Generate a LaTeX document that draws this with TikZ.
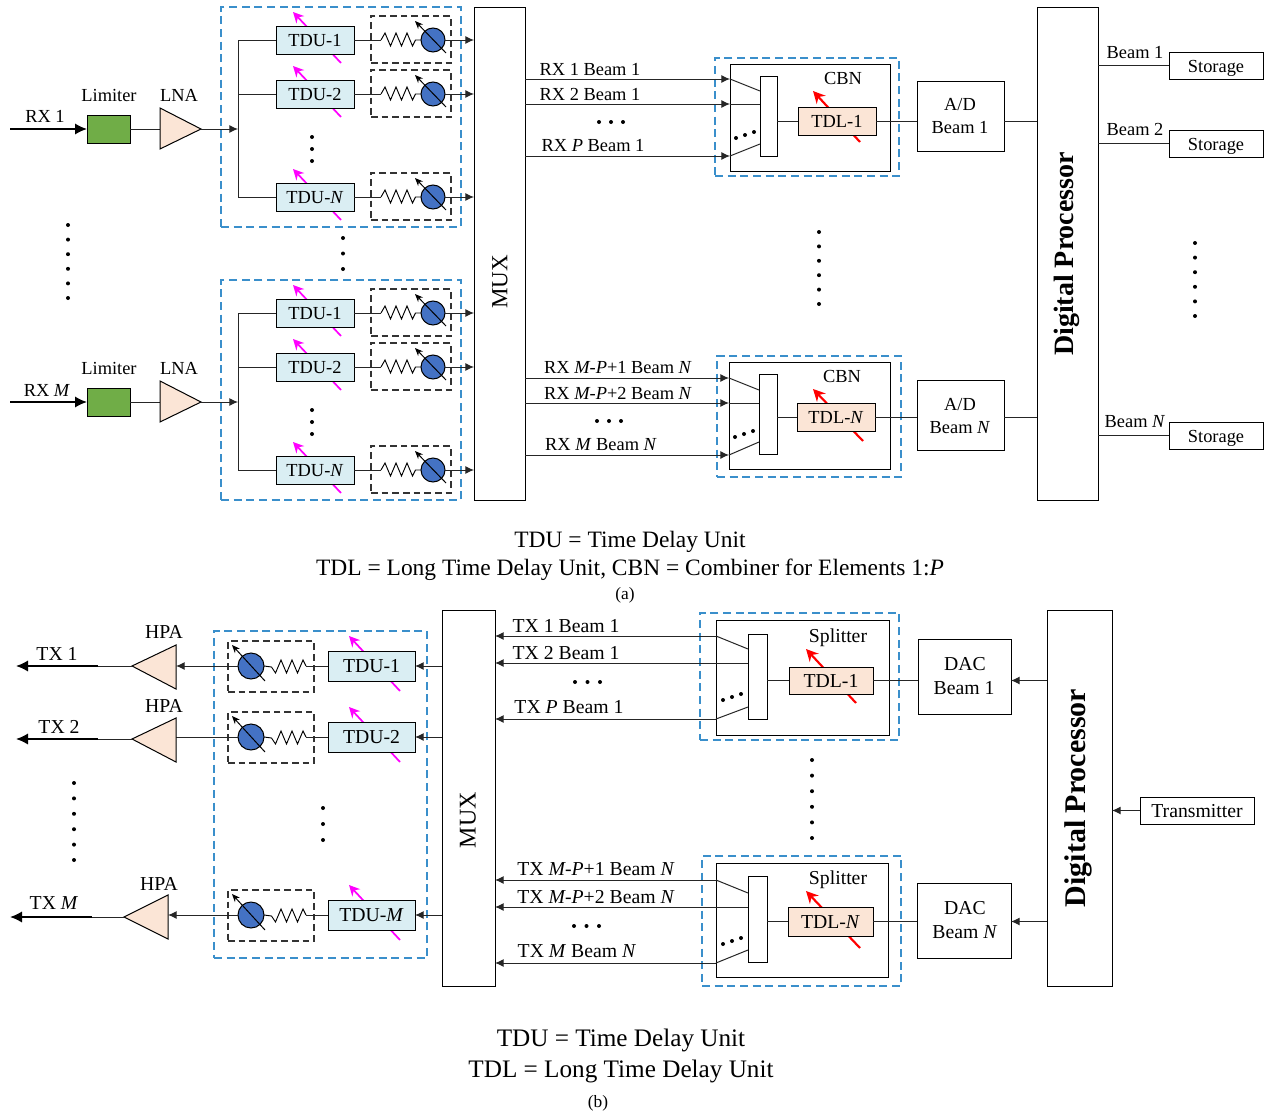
\documentclass[tikz,border=0pt]{standalone}
\usepackage{fontspec}
\setmainfont{Liberation Serif}
\usetikzlibrary{arrows.meta}
\definecolor{dashblue}{HTML}{3A8FCB}
\definecolor{tdufill}{HTML}{DAEEF3}
\definecolor{peach}{HTML}{FBE5D6}
\definecolor{limgreen}{HTML}{70AD47}
\definecolor{phase}{HTML}{4472C4}
\definecolor{mag}{HTML}{FF00FF}
\tikzset{
  wire/.style={draw=black!85,line width=0.75pt},
  arw/.style={wire,-{Latex[length=6.5pt,width=6pt]}},
  thickarw/.style={draw=black,line width=1.3pt,-{Latex[length=9pt,width=8.5pt]}},
  knob/.style={draw=black,line width=0.75pt,-{Stealth[length=6pt,width=5pt]}},
  magarrow/.style={draw=mag,line width=1.3pt,-{Stealth[length=8pt,width=8pt]}},
  redarrow/.style={draw=red,line width=1.6pt,-{Stealth[length=9pt,width=9pt]}},
  boxn/.style={draw=black,line width=0.7pt,fill=white,inner sep=0pt,outer sep=0pt,text height=10pt,text depth=0pt},
  tdubox/.style={boxn,fill=tdufill},
  tdlbox/.style={boxn,fill=peach},
  limbox/.style={boxn,fill=limgreen},
  blueframe/.style={boxn,fill=none,draw=dashblue,line width=1pt,dash pattern=on 6pt off 3.5pt},
  blackframe/.style={boxn,fill=none,draw=black!80,line width=0.8pt,dash pattern=on 5pt off 3pt},
  phasec/.style={circle,draw=black,line width=0.75pt,fill=phase,inner sep=0pt,outer sep=0pt},
  amp/.style={draw=black,line width=0.75pt,fill=peach,line join=miter},
  lab/.style={inner sep=0pt,outer sep=0pt,text height=10pt,text depth=0pt},
  vlab/.style={rotate=90,inner sep=0pt,outer sep=0pt},
}
\newcommand{\fa}{\fontsize{13.8pt}{16pt}\selectfont}
\newcommand{\fb}{\fontsize{14.8pt}{17pt}\selectfont}
\newcount\lc
% \bx{name}{style}{x1}{y1}{x2}{y2}{text}
\newcommand{\bx}[7]{\node[#2,minimum width={(#5-#3)*0.75pt},minimum height={(#6-#4)*0.75pt}] (#1) at ({(#3+#5)/2},{(#4+#6)/2}) {#7};}
% \lbl[opts]{x}{y}{text}
\newcommand{\lbl}[4][lab]{\global\advance\lc by 1 \node[#1] (txt\the\lc) at (#2,#3) {#4};}
% dots: x y dx dy n
\newcommand{\dotrow}[5]{\foreach \i in {1,...,#5}{\fill ({#1+(\i-1)*#3},{#2+(\i-1)*#4}) circle (2);}}
% RX delay row: id, y, label
\newcommand{\rxrow}[3]{\begin{scope}[shift={(0,#2)}]
  \draw[magarrow] (341,23) -- (293,-28);
  \coordinate (#1-bus) at (238,0);
  \coordinate (#1-r) at (381,0);
  \coordinate (#1-o) at (474,0);
  \bx{#1-t}{tdubox}{276}{-14}{354}{14}{\fa #3}
  \bx{#1-d}{blackframe}{371}{-24}{451}{23}{}
  \node[phasec,minimum size={24*0.75pt}] (#1-c) at (433,0) {};
  \draw[wire] (#1-bus) -- (#1-t.west);
  \draw[wire] (#1-t.east) -- (#1-r);
  \draw[line width=0.7pt] (#1-r) -- ++(4,-7) -- ++(5.5,13) -- ++(5.5,-13) -- ++(5.5,13) -- ++(5.5,-13) -- ++(5.5,13) -- ++(3,-6) -- (#1-c.west);
  \draw[arw] (#1-c.east) -- (#1-o);
  \draw[knob] (446,13) -- (415,-19);
\end{scope}}
% TX delay row: id, y, label
\newcommand{\txrow}[3]{\begin{scope}[shift={(0,#2)}]
  \draw[magarrow] (400,25) -- (349,-30);
  \coordinate (#1-r) at (306,0);
  \bx{#1-t}{tdubox}{328}{-15}{415}{15}{\fb #3}
  \bx{#1-d}{blackframe}{228}{-25}{314}{26}{}
  \node[phasec,minimum size={26*0.75pt}] (#1-c) at (251,0) {};
  \draw[wire] (#1-t.west) -- (#1-r);
  \draw[line width=0.7pt] (#1-r) -- ++(-3,-6) -- ++(-5.5,13) -- ++(-5.5,-13) -- ++(-5.5,13) -- ++(-5.5,-13) -- ++(-5.5,13) -- ++(-4,-6) -- (#1-c.east);
  \draw[knob] (265,15) -- (232,-21);
\end{scope}}
\begin{document}
\begin{tikzpicture}[x=0.75pt,y=-0.75pt]
\useasboundingbox (0,0) rectangle (1271,1117);
% ---------- (a) frames
\bx{fa1}{blueframe}{221}{7}{461}{227}{}
\bx{fa2}{blueframe}{221}{280}{461}{500}{}
\bx{muxa}{boxn}{474}{7}{525}{500}{}
\lbl[vlab,font=\fontsize{17.3pt}{20pt}\selectfont]{500}{282}{MUX}
\bx{dpa}{boxn}{1037}{7}{1098}{500}{}
\lbl[vlab,font=\bfseries\fontsize{21pt}{24pt}\selectfont]{1067}{254}{Digital Processor}
% RX rows
\rxrow{a1}{40}{TDU-1}
\rxrow{a2}{94}{TDU-2}
\rxrow{a3}{197}{TDU-\textit{N}}
\rxrow{a4}{313}{TDU-1}
\rxrow{a5}{367}{TDU-2}
\rxrow{a6}{470}{TDU-\textit{N}}
\draw[wire] (a1-bus) -- (a3-bus);
\draw[wire] (a4-bus) -- (a6-bus);
% RX front end 1
\coordinate (rx1in) at (10,129);
\bx{lim1}{limbox}{87}{115}{130}{143}{}
\draw[thickarw] (rx1in) -- (lim1.west);
\coordinate (lna1b) at (160,129);
\coordinate (lna1t) at (201,129);
\coordinate (bus1) at (238,129);
\draw[wire] (lim1.east) -- (lna1b);
\draw[amp] (160,108) -- (lna1t) -- (160,149) -- cycle;
\draw[arw] (lna1t) -- (bus1);
\lbl{45}{116}{\fa RX 1}
\lbl{109}{95}{\fa Limiter}
\lbl{179}{95}{\fa LNA}
% RX front end M
\coordinate (rx2in) at (10,402);
\bx{lim2}{limbox}{87}{388}{130}{416}{}
\draw[thickarw] (rx2in) -- (lim2.west);
\coordinate (lna2b) at (160,402);
\coordinate (lna2t) at (201,402);
\coordinate (bus2) at (238,402);
\draw[wire] (lim2.east) -- (lna2b);
\draw[amp] (160,381) -- (lna2t) -- (160,422) -- cycle;
\draw[arw] (lna2t) -- (bus2);
\lbl{47}{390}{\fa RX \textit{M}}
\lbl{109}{368}{\fa Limiter}
\lbl{179}{368}{\fa LNA}
% dots
\dotrow{68}{225}{0}{14.6}{6}
\dotrow{343}{238}{0}{15.5}{3}
\dotrow{312}{137}{0}{12}{3}
\dotrow{312}{410}{0}{12}{3}
\dotrow{819}{232}{0}{14.4}{6}
\dotrow{1195}{243}{0}{14.6}{6}
% CBN 1
\bx{fc1}{blueframe}{715}{58}{899}{176}{}
\bx{cb1}{boxn}{730}{64}{890}{171}{}
\lbl{843}{78}{\fa CBN}
\coordinate (i11) at (730,79); \coordinate (i12) at (730,104); \coordinate (i13) at (730,156);
\coordinate (m11) at (525,79); \coordinate (m12) at (525,104); \coordinate (m13) at (525,156);
\draw[arw] (m11) -- (i11);
\draw[arw] (m12) -- (i12);
\draw[arw] (m13) -- (i13);
\bx{cm1}{boxn}{760}{76}{777}{156}{}
\draw[wire] (i11) -- (760,91);
\draw[wire] (i12) -- (760,104);
\draw[wire] (i13) -- (760,144);
\dotrow{736}{138}{9}{-3}{3}
\draw[redarrow] (860,142) -- (813,91);
\bx{tl1}{tdlbox}{798}{107}{876}{135}{\fa TDL-1}
\bx{ad1}{boxn}{917}{81}{1004}{151}{}
\draw[wire] (cm1.east |- tl1.west) -- (tl1.west);
\draw[wire] (tl1.east) -- (ad1.west |- tl1.east);
\draw[wire] (ad1.east |- tl1.east) -- (dpa.west |- tl1.east);
\lbl{960}{104}{\fa A/D}
\lbl{960}{127}{\fa Beam 1}
\lbl{590}{69}{\fa RX 1 Beam 1}
\lbl{590}{94}{\fa RX 2 Beam 1}
\dotrow{599}{122}{12}{0}{3}
\lbl{593}{145}{\fa RX \textit{P} Beam 1}
% CBN N
\bx{fc2}{blueframe}{717}{356}{901}{477}{}
\bx{cb2}{boxn}{729}{362}{890}{469}{}
\lbl{842}{376}{\fa CBN}
\coordinate (i21) at (729,378); \coordinate (i22) at (729,403); \coordinate (i23) at (729,455);
\coordinate (m21) at (525,378); \coordinate (m22) at (525,403); \coordinate (m23) at (525,455);
\draw[arw] (m21) -- (i21);
\draw[arw] (m22) -- (i22);
\draw[arw] (m23) -- (i23);
\bx{cm2}{boxn}{759}{374}{777}{454}{}
\draw[wire] (i21) -- (759,390);
\draw[wire] (i22) -- (759,403);
\draw[wire] (i23) -- (759,442);
\dotrow{735}{437}{9}{-3}{3}
\draw[redarrow] (863,441) -- (813,389);
\bx{tl2}{tdlbox}{797}{403}{875}{431}{\fa TDL-\textit{N}}
\bx{ad2}{boxn}{917}{380}{1004}{450}{}
\draw[wire] (cm2.east |- tl2.west) -- (tl2.west);
\draw[wire] (tl2.east) -- (ad2.west |- tl2.east);
\draw[wire] (ad2.east |- tl2.east) -- (dpa.west |- tl2.east);
\lbl{960}{404}{\fa A/D}
\lbl{960}{427}{\fa Beam \textit{N}}
\lbl{618}{367}{\fa RX \textit{M-P}+1 Beam \textit{N}}
\lbl{618}{393}{\fa RX \textit{M-P}+2 Beam \textit{N}}
\dotrow{597}{421}{12}{0}{3}
\lbl{601}{444}{\fa RX \textit{M} Beam \textit{N}}
% Storage
\bx{st1}{boxn}{1169}{52}{1263}{79}{\fa Storage}
\bx{st2}{boxn}{1169}{130}{1263}{157}{\fa Storage}
\bx{st3}{boxn}{1169}{422}{1263}{449}{\fa Storage}
\draw[wire] (dpa.east |- st1.west) -- (st1.west);
\draw[wire] (dpa.east |- st2.west) -- (st2.west);
\draw[wire] (dpa.east |- st3.west) -- (st3.west);
\lbl{1135}{52}{\fa Beam 1}
\lbl{1135}{129}{\fa Beam 2}
\lbl{1135}{421}{\fa Beam \textit{N}}
% captions a
\lbl[lab,font=\fontsize{17.6pt}{20pt}\selectfont]{630}{541}{TDU = Time Delay Unit}
\lbl[lab,font=\fontsize{17.6pt}{20pt}\selectfont]{630}{568.5}{TDL = Long Time Delay Unit, CBN = Combiner for Elements 1:\textit{P}}
\lbl[lab,font=\fontsize{13pt}{15pt}\selectfont]{625}{593}{(a)}
% ---------- (b)
\bx{fb1}{blueframe}{214}{631}{427}{958}{}
\bx{muxb}{boxn}{442}{610}{495}{986}{}
\lbl[vlab,font=\fontsize{18pt}{20pt}\selectfont]{468}{820}{MUX}
\bx{dpb}{boxn}{1047}{610}{1112}{986}{}
\lbl[vlab,font=\bfseries\fontsize{22.5pt}{25pt}\selectfont]{1078}{798}{Digital Processor}
\txrow{b1}{666}{TDU-1}
\txrow{b2}{737}{TDU-2}
\txrow{b3}{915}{TDU-\textit{M}}
\draw[arw] (muxb.west |- b1-t.east) -- (b1-t.east);
\draw[arw] (muxb.west |- b2-t.east) -- (b2-t.east);
\draw[arw] (muxb.west |- b3-t.east) -- (b3-t.east);
% HPAs
\coordinate (h1b) at (176,666); \coordinate (h1t) at (132,666); \coordinate (tx1o) at (16,666); \coordinate (tx1m) at (98,666);
\coordinate (h2b) at (176,737); \coordinate (h2t) at (132,739); \coordinate (tx2o) at (16,739); \coordinate (tx2m) at (98,739);
\coordinate (h3b) at (168,915); \coordinate (h3t) at (124,917); \coordinate (tx3o) at (10,917); \coordinate (tx3m) at (92,917);
\draw[arw] (b1-c.west) -- (h1b);
\draw[wire] (b2-c.west) -- (h2b);
\draw[arw] (b3-c.west) -- (h3b);
\draw[amp] (176,645) -- (h1t) -- (176,689) -- cycle;
\draw[amp] (176,718) -- (h2t) -- (176,762) -- cycle;
\draw[amp] (168,895) -- (h3t) -- (168,939) -- cycle;
\draw[wire] (h1t) -- (tx1m);
\draw[wire] (h2t) -- (tx2m);
\draw[wire] (h3t) -- (tx3m);
\draw[thickarw] (tx1m) -- (tx1o);
\draw[thickarw] (tx2m) -- (tx2o);
\draw[thickarw] (tx3m) -- (tx3o);
\lbl{164}{632}{\fb HPA}
\lbl{164}{706}{\fb HPA}
\lbl{159}{884}{\fb HPA}
\lbl{57}{654}{\fb TX 1}
\lbl{59}{727}{\fb TX 2}
\lbl{54}{903}{\fb TX \textit{M}}
\dotrow{74}{783}{0}{15.4}{6}
\dotrow{323}{808}{0}{16}{3}
\dotrow{812}{760}{0}{15.6}{6}
% Splitter 1
\bx{fs1}{blueframe}{700}{613}{899}{740}{}
\bx{sp1}{boxn}{716}{620}{889}{735}{}
\lbl{838}{636}{\fb Splitter}
\coordinate (o11) at (716,636); \coordinate (o12) at (716,663); \coordinate (o13) at (716,719);
\coordinate (n11) at (495,636); \coordinate (n12) at (495,663); \coordinate (n13) at (495,719);
\draw[arw] (o11) -- (n11);
\draw[arw] (o12) -- (n12);
\draw[arw] (o13) -- (n13);
\bx{cs1}{boxn}{748}{634}{767}{719}{}
\draw[wire] (o11) -- (748,649);
\draw[wire] (o12) -- (748,663);
\draw[wire] (o13) -- (748,707);
\dotrow{723}{700}{9}{-3}{3}
\draw[redarrow] (856,703) -- (806,649);
\bx{ts1}{tdlbox}{789}{667}{873}{694}{\fb TDL-1}
\bx{da1}{boxn}{918}{639}{1011}{714}{}
\draw[wire] (cs1.east |- ts1.west) -- (ts1.west);
\draw[wire] (ts1.east) -- (da1.west |- ts1.east);
\draw[arw] (dpb.west |- ts1.east) -- (da1.east |- ts1.east);
\lbl{965}{664}{\fb DAC}
\lbl{964}{688}{\fb Beam 1}
\lbl{566}{626}{\fb TX 1 Beam 1}
\lbl{566}{653}{\fb TX 2 Beam 1}
\dotrow{575}{682}{12.5}{0}{3}
\lbl{569}{707}{\fb TX \textit{P} Beam 1}
% Splitter N
\bx{fs2}{blueframe}{702}{856}{901}{986}{}
\bx{sp2}{boxn}{716}{863}{888}{977}{}
\lbl{838}{878}{\fb Splitter}
\coordinate (o21) at (716,880); \coordinate (o22) at (716,907); \coordinate (o23) at (716,963);
\coordinate (n21) at (495,880); \coordinate (n22) at (495,907); \coordinate (n23) at (495,963);
\draw[arw] (o21) -- (n21);
\draw[arw] (o22) -- (n22);
\draw[arw] (o23) -- (n23);
\bx{cs2}{boxn}{748}{876}{767}{962}{}
\draw[wire] (o21) -- (748,893);
\draw[wire] (o22) -- (748,907);
\draw[wire] (o23) -- (748,950);
\dotrow{723}{944}{9}{-3}{3}
\draw[redarrow] (860,948) -- (806,891);
\bx{ts2}{tdlbox}{788}{907}{873}{936}{\fb TDL-\textit{N}}
\bx{da2}{boxn}{917}{883}{1011}{958}{}
\draw[wire] (cs2.east |- ts2.west) -- (ts2.west);
\draw[wire] (ts2.east) -- (da2.west |- ts2.east);
\draw[arw] (dpb.west |- ts2.east) -- (da2.east |- ts2.east);
\lbl{965}{908}{\fb DAC}
\lbl{965}{932}{\fb Beam \textit{N}}
\lbl{596}{869}{\fb TX \textit{M-P}+1 Beam \textit{N}}
\lbl{596}{897}{\fb TX \textit{M-P}+2 Beam \textit{N}}
\dotrow{574}{926}{12.5}{0}{3}
\lbl{577}{951}{\fb TX \textit{M} Beam \textit{N}}
% Transmitter
\bx{trm}{boxn}{1140}{797}{1254}{824}{\fb Transmitter}
\draw[arw] (trm.west) -- (dpb.east |- trm.west);
% captions b
\lbl[lab,font=\fontsize{18.9pt}{21pt}\selectfont]{621}{1040}{TDU = Time Delay Unit}
\lbl[lab,font=\fontsize{18.9pt}{21pt}\selectfont]{621}{1071}{TDL = Long Time Delay Unit}
\lbl[lab,font=\fontsize{13pt}{15pt}\selectfont]{598}{1101}{(b)}
\end{tikzpicture}
\end{document}
